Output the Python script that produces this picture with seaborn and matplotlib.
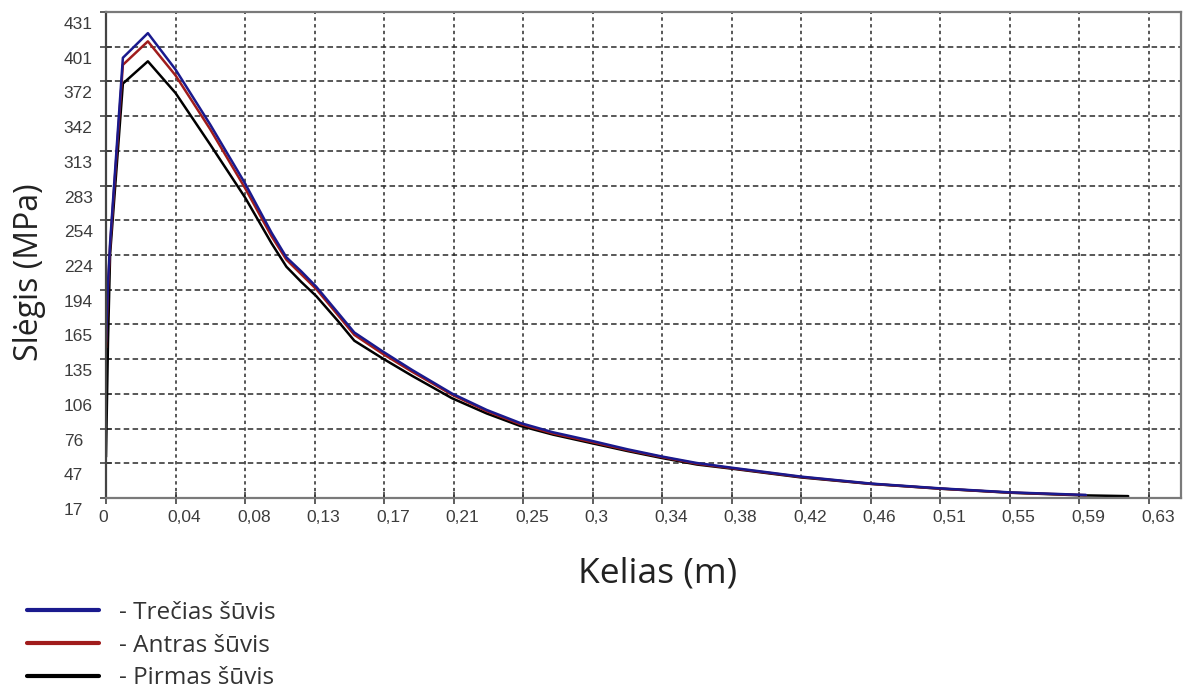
import numpy as np
import pandas as pd
import matplotlib
matplotlib.use("Agg")
import matplotlib.pyplot as plt
import matplotlib.transforms as mtransforms
from matplotlib.lines import Line2D
import seaborn as sns

# Distance along the barrel (m) and pressure (MPa) for each shot
dist_trecias = [0, 0.0012, 0.0025, 0.0102, 0.0253, 0.042, 0.063, 0.084, 0.100, 0.109,
                0.118, 0.127, 0.140, 0.150, 0.167, 0.185, 0.209, 0.230, 0.250, 0.270,
                0.294, 0.315, 0.336, 0.357, 0.378, 0.420, 0.462, 0.504, 0.546, 0.588, 0.592]
slegis_trecias = [150, 200, 235, 392, 413, 382, 335, 285, 243, 222,
                  210, 197, 175, 158, 142, 126, 106, 92, 81, 73,
                  65.5, 58.5, 52.3, 46.8, 42.8, 35.2, 29.3, 25.2, 21.8, 19.8, 19.6]

dist_antras = [0, 0.0012, 0.0025, 0.0102, 0.0253, 0.042, 0.063, 0.084, 0.100, 0.109,
               0.118, 0.127, 0.140, 0.150, 0.167, 0.185, 0.209, 0.230, 0.250, 0.270,
               0.294, 0.315, 0.336, 0.357, 0.378, 0.420, 0.462, 0.504, 0.546, 0.588, 0.592]
slegis_antras = [145, 195, 232, 386, 406, 377, 331, 281, 240, 220,
                 207.5, 195, 173, 156, 140, 124.5, 105, 91, 80, 72,
                 64.5, 57.8, 51.8, 46.2, 42.4, 34.9, 29.1, 25.0, 21.6, 19.6, 19.4]

dist_pirmas = [0, 0.0012, 0.0025, 0.0102, 0.0253, 0.042, 0.063, 0.084, 0.100, 0.109,
               0.118, 0.127, 0.140, 0.150, 0.167, 0.185, 0.209, 0.230, 0.250, 0.270,
               0.294, 0.315, 0.336, 0.357, 0.378, 0.420, 0.462, 0.504, 0.546, 0.588, 0.6175]
slegis_pirmas = [52, 150, 225, 370, 389, 362, 318, 273, 234, 214,
                 201, 189, 168, 151, 136, 121, 102, 89, 78.5, 71,
                 63.5, 57, 51, 45.5, 42, 34.5, 29, 24.9, 21.5, 19.3, 18.6]

series_names = ["Pirmas šūvis", "Antras šūvis", "Trečias šūvis"]
series_colors = ["#000000", "#a01c1c", "#1a1a8e"]

x_tick_labels = ["0", "0,04", "0,08", "0,13", "0,17", "0,21", "0,25", "0,3",
                 "0,34", "0,38", "0,42", "0,46", "0,51", "0,55", "0,59", "0,63"]
y_tick_labels = ["17", "47", "76", "106", "135", "165", "194", "224",
                 "254", "283", "313", "342", "372", "401", "431"]

frames = []
for name, xs, ys in zip(series_names,
                        [dist_pirmas, dist_antras, dist_trecias],
                        [slegis_pirmas, slegis_antras, slegis_trecias]):
    frames.append(pd.DataFrame({"Kelias": xs, "Slegis": ys, "Suvis": name}))
df = pd.concat(frames, ignore_index=True)

sns.set_theme(style="white")
plt.rcParams["font.family"] = ["Liberation Sans", "DejaVu Sans"]

fig = plt.figure(figsize=(11.87, 6.91), dpi=100)
fig.patch.set_facecolor("white")
ax = fig.add_axes([106 / 1187, 1 - 498 / 691, 1075 / 1187, 486 / 691])

sns.lineplot(data=df, x="Kelias", y="Slegis", hue="Suvis", hue_order=series_names,
             palette=series_colors, estimator=None, sort=False, linewidth=1.8,
             legend=False, ax=ax)

# Axis ranges and ticks
x_ticks = np.linspace(0, 0.63, len(x_tick_labels))
y_ticks = np.linspace(17, 431, len(y_tick_labels))
ax.set_xlim(0, 0.6494)
ax.set_ylim(17, 431)
ax.set_xticks(x_ticks)
ax.set_yticks(y_ticks)
ax.set_xticklabels(x_tick_labels, ha="left")
ax.set_yticklabels(y_tick_labels, ha="left")

ax.tick_params(axis="both", direction="inout", length=8, width=1.1,
               color="#333333", labelsize=12.5, labelcolor="#3c3c3c")
ax.tick_params(axis="x", pad=4.5)
ax.tick_params(axis="y", pad=26.5)
ax.tick_params(bottom=True, left=True)

# Shift tick labels the way the original plotting tool places them
for lab in ax.get_xticklabels():
    lab.set_transform(lab.get_transform()
                      + mtransforms.ScaledTranslation(-0.08, 0, fig.dpi_scale_trans))
for lab in ax.get_yticklabels():
    lab.set_transform(lab.get_transform()
                      + mtransforms.ScaledTranslation(0, -0.11, fig.dpi_scale_trans))

# Dashed grid
ax.yaxis.grid(True, color="#2a2a2a", linestyle=(0, (3.6, 2.2)), linewidth=1.1)
ax.xaxis.grid(True, color="#2a2a2a", linestyle=(0, (2.2, 2.2)), linewidth=1.1)
ax.set_axisbelow(True)

for side, sp in ax.spines.items():
    sp.set_visible(True)
    sp.set_color("#7a7a7a")
    sp.set_linewidth(1.6)
ax.spines["left"].set_color("#444444")

# Axis titles
ax.set_xlabel("Kelias (m)", fontsize=25.5, family=["Open Sans", "DejaVu Sans"],
              color="#222222", va="center")
ax.xaxis.set_label_coords((658 - 106) / 1075, (498 - 573) / 486)
ax.set_ylabel("Slėgis (MPa)", fontsize=23, family=["Open Sans", "DejaVu Sans"],
              color="#222222", va="center")
ax.yaxis.set_label_coords((30 - 106) / 1075, (498 - 272) / 486)

# Legend below the plot
handles = [Line2D([], [], color=c, linewidth=3) for c in reversed(series_colors)]
labels = ["- " + n for n in reversed(series_names)]
fig.legend(handles, labels, loc="upper left", bbox_to_anchor=(27 / 1187, 1 - 601 / 691),
           frameon=False, handlelength=2.95, handletextpad=0.82, labelspacing=0.36,
           borderpad=0, borderaxespad=0,
           prop={"family": ["Open Sans", "DejaVu Sans"], "size": 17.5},
           labelcolor="#333333")

fig.savefig("out.png", dpi=100, facecolor="white")
